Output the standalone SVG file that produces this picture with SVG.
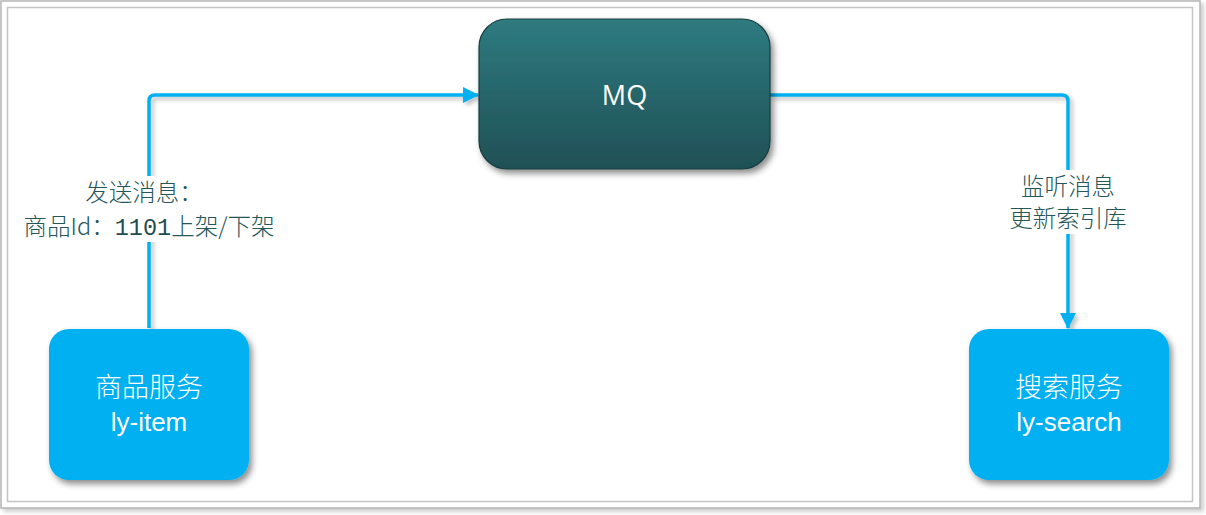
<svg xmlns="http://www.w3.org/2000/svg" width="1206" height="515" viewBox="0 0 1206 515">
<style>
.lbl{font-family:"Noto Sans CJK SC","Liberation Sans",sans-serif;font-size:23.5px;font-weight:300;fill:#24565A;text-anchor:middle}
.num{font-family:"Liberation Mono","DejaVu Sans Mono",monospace;font-size:23.5px;font-weight:400;fill:#1F4E52}
.nt{font-family:"Liberation Sans","Noto Sans CJK SC",sans-serif;font-size:26px;fill:#fff;text-anchor:middle}
.cjk{font-family:"Noto Sans CJK SC",sans-serif;font-size:27px;font-weight:300;fill:#fff;text-anchor:middle}
.conn{fill:none;stroke:#00B0F0;stroke-width:3.5;stroke-linejoin:round}
.svc{fill:#00B0F0}
</style>
<defs>
<linearGradient id="mqg" x1="0" y1="0" x2="0" y2="1">
<stop offset="0" stop-color="#2E7B80"/>
<stop offset="1" stop-color="#1F5055"/>
</linearGradient>
<filter id="sh" x="-20%" y="-20%" width="140%" height="150%">
<feDropShadow dx="3" dy="4" stdDeviation="3" flood-color="#000" flood-opacity="0.45"/>
</filter>
<filter id="lsh" x="-20%" y="-20%" width="140%" height="140%">
<feDropShadow dx="3" dy="3" stdDeviation="2" flood-color="#000" flood-opacity="0.25"/>
</filter>
<filter id="fsh" x="-5%" y="-5%" width="110%" height="110%">
<feDropShadow dx="3" dy="3" stdDeviation="2" flood-color="#000" flood-opacity="0.2"/>
</filter>
<marker id="arr2" markerWidth="16" markerHeight="16" refX="15" refY="8" orient="auto" markerUnits="userSpaceOnUse" viewBox="0 0 16 16">
<path d="M0,0 L16,8 L0,16 Z" fill="#00B0F0"/>
</marker>
</defs>
<rect x="1" y="1" width="1199" height="507" fill="#fff" stroke="#B4B4B4" stroke-width="1.5" filter="url(#fsh)"/>
<rect x="7.5" y="7.5" width="1185" height="494" fill="#fff" stroke="#C4C4C4" stroke-width="1.5"/>
<g id="connectors">
<path class="conn" filter="url(#lsh)" d="M149,328 L149,101 Q149,95 155,95 L478,95" marker-end="url(#arr2)"/>
<path class="conn" filter="url(#lsh)" d="M770,95 L1062,95 Q1068,95 1068,101 L1068,328" marker-end="url(#arr2)"/>
</g>
<g id="label-send">
<rect x="16" y="176" width="270" height="66" fill="#fff"/>
<text class="lbl" x="144" y="201">发送消息：</text>
<text class="lbl" x="149" y="235">商品Id：<tspan class="num">1101</tspan>上架/下架</text>
</g>
<g id="label-listen">
<rect x="1003" y="170" width="132" height="64" fill="#fff"/>
<text class="lbl" x="1068" y="195">监听消息</text>
<text class="lbl" x="1068" y="227">更新索引库</text>
</g>
<g id="mq">
<rect x="479" y="19" width="291" height="150" rx="28" fill="url(#mqg)" stroke="#173C3F" stroke-width="1.2" filter="url(#sh)"/>
<text class="nt" x="624.5" y="105" style="font-family:'Open Sans','Noto Sans',sans-serif;font-size:27px">MQ</text>
</g>
<g id="item-service">
<rect class="svc" x="49" y="329" width="200" height="151" rx="20" filter="url(#sh)"/>
<text class="cjk" x="149" y="397">商品服务</text>
<text class="nt" x="149" y="431">ly-item</text>
</g>
<g id="search-service">
<rect class="svc" x="969" y="329" width="200" height="151" rx="20" filter="url(#sh)"/>
<text class="cjk" x="1069" y="397">搜索服务</text>
<text class="nt" x="1069" y="431">ly-search</text>
</g>
</svg>
